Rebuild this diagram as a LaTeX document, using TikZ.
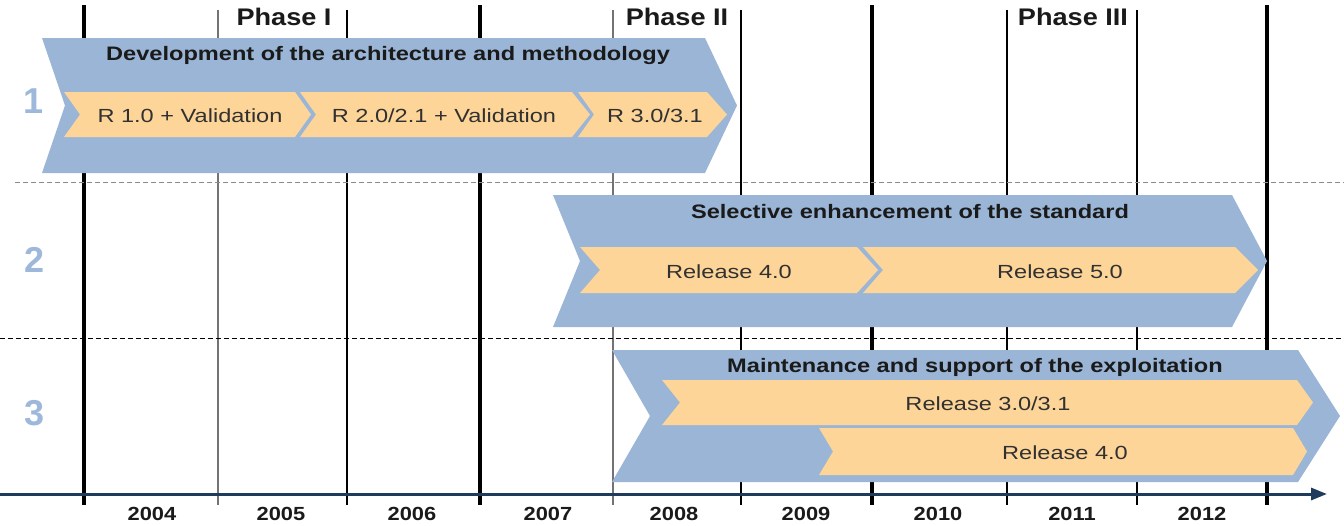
\documentclass[tikz,border=0pt]{standalone}
\usepackage{fontspec}
\setmainfont{Liberation Sans}
\newfontfamily\titlefam{Liberation Sans}[FakeStretch=1.21]
\newfontfamily\relfam{Liberation Sans}[FakeStretch=1.24]
\newfontfamily\yearfam{Liberation Sans}[FakeStretch=1.15]
\newfontfamily\phasefam{Liberation Sans}[FakeStretch=1.13]
\usetikzlibrary{arrows.meta}
\definecolor{chevblue}{HTML}{9AB5D6}
\definecolor{chevorange}{HTML}{FDD598}
\definecolor{numblue}{HTML}{9DB8DA}
\definecolor{axisnavy}{HTML}{1F3B5C}
\definecolor{txt}{HTML}{1A1A1A}
\tikzset{
  thickline/.style={line width=4pt,black},
  thinline/.style={line width=1.5pt,black},
  grayline/.style={line width=1.5pt,black!55},
  titletxt/.style={font=\titlefam\fontsize{19.5}{21}\selectfont\bfseries,text=txt,inner sep=0pt,anchor=base},
  reltxt/.style={font=\relfam\fontsize{19}{21}\selectfont,text=txt!90,inner sep=0pt,anchor=base},
  yeartxt/.style={font=\yearfam\fontsize{19}{21}\selectfont\bfseries,text=txt,inner sep=0pt,anchor=base},
  phasetxt/.style={font=\phasefam\fontsize{24}{26}\selectfont\bfseries,text=txt,inner sep=0pt,anchor=base},
  numtxt/.style={font=\fontsize{36}{40}\selectfont\bfseries,text=numblue,inner sep=0pt,anchor=base},
}
% chevron: #1 colour, #2 left, #3 notch, #4 right, #5 tip, #6 top, #7 bottom
\newcommand{\chevronshape}[7]{%
  \fill[#1] (#2,#6) -- (#4,#6) -- (#5,{(#6+#7)/2}) -- (#4,#7) -- (#2,#7) -- (#3,{(#6+#7)/2}) -- cycle;}
\begin{document}
\begin{tikzpicture}[x=1pt,y=-1pt]
\useasboundingbox (0,0) rectangle (1344,525);
% vertical year separators
\foreach \x in {84,480,872,1267} \draw[thickline] (\x,5) -- (\x,505);
\foreach \x in {347,741,1007,1137} \draw[thinline] (\x,10) -- (\x,505);
\foreach \x in {218,613} \draw[grayline] (\x,10) -- (\x,505);
% dashed separators
\draw[black!45,line width=1pt,dash pattern=on 5pt off 3pt] (15,182) -- (1344,182);
\draw[black,line width=1pt,dash pattern=on 5pt off 3pt] (0,338) -- (1344,338);
% row 1
\chevronshape{chevblue}{42}{65}{705}{737}{38}{173}
\chevronshape{chevorange}{64}{80}{295}{311}{92}{137}
\chevronshape{chevorange}{300}{316}{572}{590}{92}{137}
\chevronshape{chevorange}{578}{594}{707}{727}{92}{137}
\node[titletxt] (t1) at (388,60) {Development of the architecture and methodology};
\node[reltxt] (r11) at (190,122) {R 1.0 + Validation};
\node[reltxt] (r12) at (444,122) {R 2.0/2.1 + Validation};
\node[reltxt] (r13) at (655,122) {R 3.0/3.1};
% row 2
\chevronshape{chevblue}{553}{580}{1232}{1267}{195}{327}
\chevronshape{chevorange}{580}{600}{857}{878}{247}{293}
\chevronshape{chevorange}{863}{883}{1235}{1258}{247}{293}
\node[titletxt] (t2) at (910,218) {Selective enhancement of the standard};
\node[reltxt] (r21) at (729,278) {Release 4.0};
\node[reltxt] (r22) at (1060,278) {Release 5.0};
% row 3
\chevronshape{chevblue}{612}{650}{1298}{1340}{350}{482}
\chevronshape{chevorange}{662}{680}{1297}{1313}{380}{425}
\chevronshape{chevorange}{819}{833}{1293}{1307}{428}{475}
\node[titletxt] (t3) at (975,372) {Maintenance and support of the exploitation};
\node[reltxt] (r31) at (988,410) {Release 3.0/3.1};
\node[reltxt] (r32) at (1065,459) {Release 4.0};
% row numbers
\node[numtxt] (n1) at (34,113) {1};
\node[numtxt] (n2) at (35,272) {2};
\node[numtxt] (n3) at (35,425) {3};
% phases
\node[phasetxt] (p1) at (284,25) {Phase I};
\node[phasetxt] (p2) at (677,25) {Phase II};
\node[phasetxt] (p3) at (1073,25) {Phase III};
% axis
\coordinate (axs) at (0,494);
\coordinate (axe) at (1327,494);
\draw[axisnavy,line width=3pt,-{Triangle[length=16pt,width=12pt]}] (axs) -- (axe);
% years
\foreach \yr/\x in {2004/152,2005/281,2006/412,2007/548,2008/674,2009/806,2010/938,2011/1072,2012/1202}
  \node[yeartxt] (y\yr) at (\x,520) {\yr};
\end{tikzpicture}
\end{document}
